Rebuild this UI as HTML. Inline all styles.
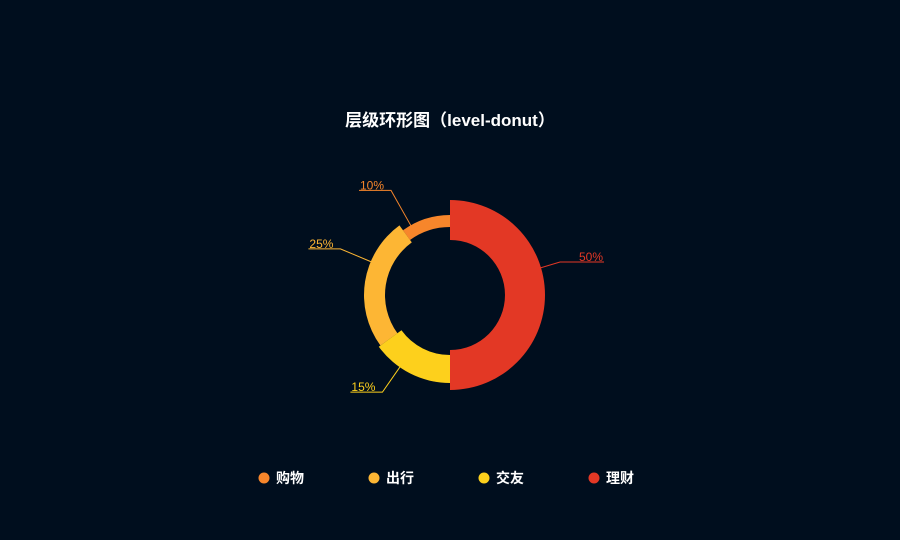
<!DOCTYPE html>
<html><head><meta charset="utf-8"><style>
body{margin:0;background:#000e1e;}
svg{display:block;font-family:"Liberation Sans","Noto Sans CJK SC",sans-serif;}
</style></head><body>
<svg width="900" height="540">
<rect width="900" height="540" fill="#000e1e"/>
<text x="450" y="126" text-anchor="middle" fill="#fff" font-size="17" font-weight="bold">层级环形图（level-donut）</text>
<g id="slices"></g><g id="labels"></g><g id="legend"></g>
</svg>
<script>
const categories=['购物','出行','交友','理财'];
const values=[10,25,15,50];
const outerRadii=[80,86,88,95];
const innerRadii=[68,65,60,55];
const colors=['#f7862b','#fdb634','#fdd01c','#e33825'];
const labelNudge=[[-25,0],[5,-28],[-14,-8],[-15,-33]];
const cx=450,cy=295;
const NS='http://www.w3.org/2000/svg';
const total=values.reduce((a,b)=>a+b,0);
function pt(r,a){return [cx-r*Math.sin(a),cy-r*Math.cos(a)];}
let acc=0;
const gS=document.getElementById('slices'),gL=document.getElementById('labels'),gG=document.getElementById('legend');
values.forEach((v,i)=>{
  const a0=acc/total*2*Math.PI,a1=(acc+v)/total*2*Math.PI;acc+=v;
  const R=outerRadii[i],r0=innerRadii[i],large=(a1-a0)>Math.PI?1:0;
  const p1=pt(R,a0),p2=pt(R,a1),p3=pt(r0,a1),p4=pt(r0,a0);
  const p=document.createElementNS(NS,'path');
  p.setAttribute('d',`M${p1}A${R},${R} 0 ${large} 0 ${p2}L${p3}A${r0},${r0} 0 ${large} 1 ${p4}Z`);
  p.setAttribute('fill',colors[i]);
  
  
  gS.appendChild(p);
  const am=(a0+a1)/2;
  const e0=pt(R+30,am);const e=[e0[0]+labelNudge[i][0],e0[1]+labelNudge[i][1]];
  const sa=Math.atan2(-(e[0]-cx),-(e[1]-cy));const s=pt(R-1,sa);
  const left=Math.sin(am)>0;const hx=e[0]+(left?-32:44);
  const l=document.createElementNS(NS,'polyline');
  l.setAttribute('points',`${s} ${e} ${hx},${e[1]}`);
  l.setAttribute('fill','none');l.setAttribute('stroke',colors[i]);l.setAttribute('stroke-width','1');
  
  
  gL.appendChild(l);
  const t=document.createElementNS(NS,'text');
  t.setAttribute('x',left?hx+1:hx-1);t.setAttribute('y',e[1]-1);
  t.setAttribute('text-anchor',left?'start':'end');
  t.setAttribute('fill',colors[i]);t.setAttribute('font-size','12');
  t.textContent=Math.round(v/total*100)+'%';
  
  
  gL.appendChild(t);
  const lx=264+i*110;
  const c=document.createElementNS(NS,'circle');
  c.setAttribute('cx',lx);c.setAttribute('cy',478);c.setAttribute('r',5.5);c.setAttribute('fill',colors[i]);
  
  
  gG.appendChild(c);
  const lt=document.createElementNS(NS,'text');
  lt.setAttribute('x',lx+12);lt.setAttribute('y',483);lt.setAttribute('fill','#fff');
  lt.setAttribute('font-size','14');lt.setAttribute('font-weight','bold');
  lt.textContent=categories[i];
  
  
  gG.appendChild(lt);
});
</script>
</body></html>
